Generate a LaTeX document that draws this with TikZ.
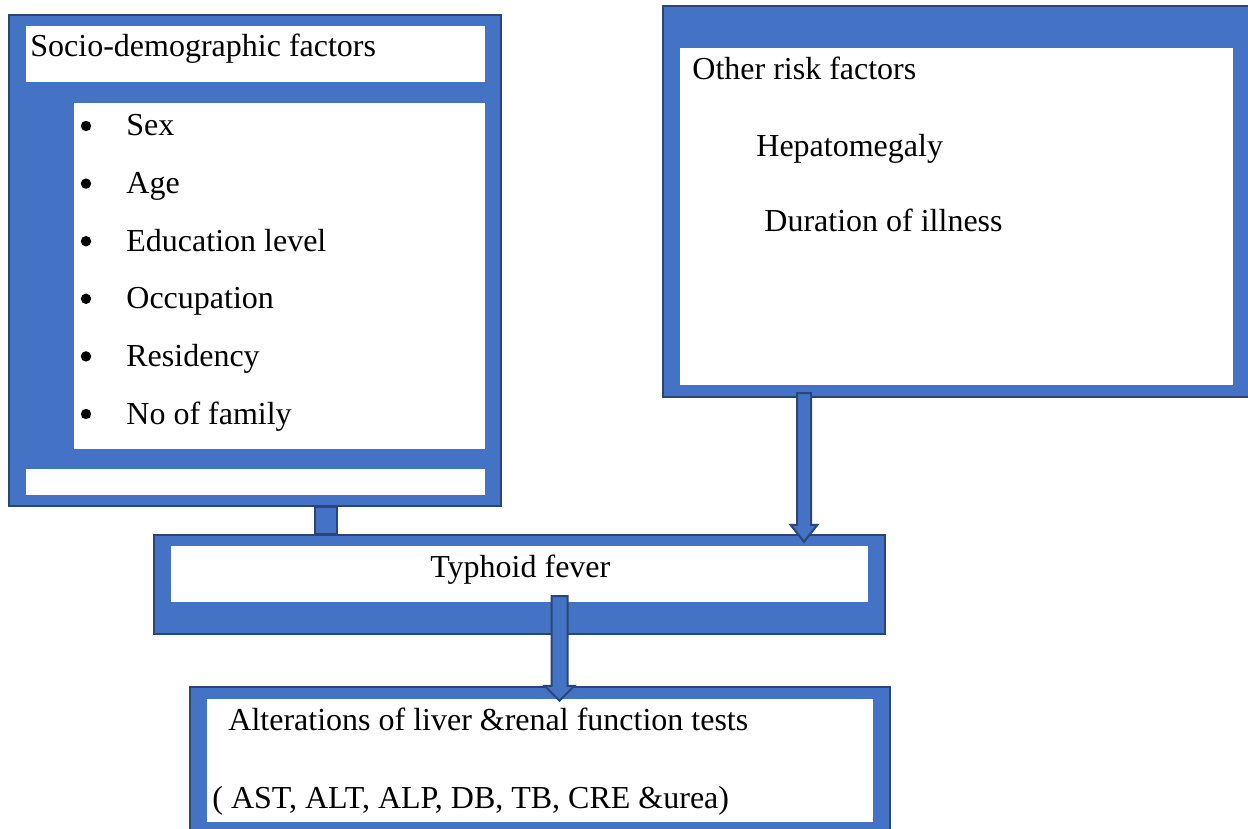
\documentclass[tikz,border=0pt]{standalone}
\usepackage{fontspec}
\setmainfont{Liberation Serif}
\usetikzlibrary{fit,calc}
\definecolor{boxblue}{HTML}{4472C4}
\definecolor{boxline}{HTML}{2A4677}
\begin{document}
\begin{tikzpicture}[x=0.5pt,y=-0.5pt,
  outerbox/.style={draw=boxline, fill=boxblue, line width=1.2pt, inner sep=0pt},
  innerbox/.style={fill=white, draw=none, inner sep=0pt},
  lbl/.style={anchor=base west, inner sep=0pt, font=\fontsize{16}{19}\selectfont},
  blockarrow/.style={draw=boxline, fill=boxblue, line width=1pt, line join=miter},
  bul/.style={circle, fill=black, draw=none, inner sep=0pt, minimum size=5.2pt}]
\useasboundingbox (0,0) rectangle (1248,829);
% boxes
\node[outerbox, fit={(9,15)(501,506)}] (socio) {};
\node[innerbox, fit={(26,26)(485,82)}] (sociohead) {};
\node[innerbox, fit={(74,103)(485,449)}] (sociolist) {};
\node[innerbox, fit={(26,469)(485,495)}] (sociofoot) {};
\node[outerbox, fit={(663,6)(1260,397)}] (other) {};
\node[innerbox, fit={(680,48)(1233,385)}] (otherin) {};
\node[outerbox, fit={(154,535)(885,634)}] (typhoid) {};
\node[innerbox, fit={(171,546)(868,602)}] (typhoidin) {};
\node[outerbox, fit={(190,687)(890,845)}] (alter) {};
\node[innerbox, fit={(207,699)(873,822)}] (alterin) {};
% connector stub socio -> typhoid
\coordinate (sx1) at (315,0);
\coordinate (sx2) at (337,0);
\draw[blockarrow] (sx1 |- socio.south) rectangle (sx2 |- typhoid.north);
% arrow other -> typhoid
\coordinate (a1x) at (804,0);
\coordinate (a1s) at ($(a1x |- other.south)+(0,-5)$);
\coordinate (a1e) at ($(a1x |- typhoid.north)+(0,8)$);
\draw[blockarrow] ($(a1s)+(-7,0)$) -- ($(a1e)+(-7,-17)$) -- ($(a1e)+(-13.5,-17)$) -- (a1e)
  -- ($(a1e)+(13.5,-17)$) -- ($(a1e)+(7,-17)$) -- ($(a1s)+(7,0)$) -- cycle;
% arrow typhoid -> alter
\coordinate (a2x) at (559.5,0);
\coordinate (a2s) at ($(a2x |- typhoid.south)+(0,-39)$);
\coordinate (a2e) at ($(a2x |- alter.north)+(0,15)$);
\draw[blockarrow] ($(a2s)+(-8,0)$) -- ($(a2e)+(-8,-15)$) -- ($(a2e)+(-15,-15)$) -- (a2e)
  -- ($(a2e)+(15,-15)$) -- ($(a2e)+(8,-15)$) -- ($(a2s)+(8,0)$) -- cycle;
% texts
\node[lbl] (tsocio) at (30,57) {Socio-demographic factors};
\foreach \i/\t in {0/Sex,1/Age,2/Education level,3/Occupation,4/Residency,5/No of family}{
  \node[lbl] (item\i) at (126,136+57.6*\i) {\t};
  \node[bul] (bul\i) at (86,126+57.6*\i) {};
}
\node[lbl] (tother) at (692,80) {Other risk factors};
\node[lbl] (thep) at (756,156) {Hepatomegaly};
\node[lbl] (tdur) at (764,231) {Duration of illness};
\node[lbl] (ttyph) at (430,577) {Typhoid fever};
\node[lbl] (talt) at (228,730) {Alterations of liver \&renal function tests};
\node[lbl] (ttests) at (212,808) {( AST, ALT, ALP, DB, TB, CRE \&urea)};
\end{tikzpicture}
\end{document}
